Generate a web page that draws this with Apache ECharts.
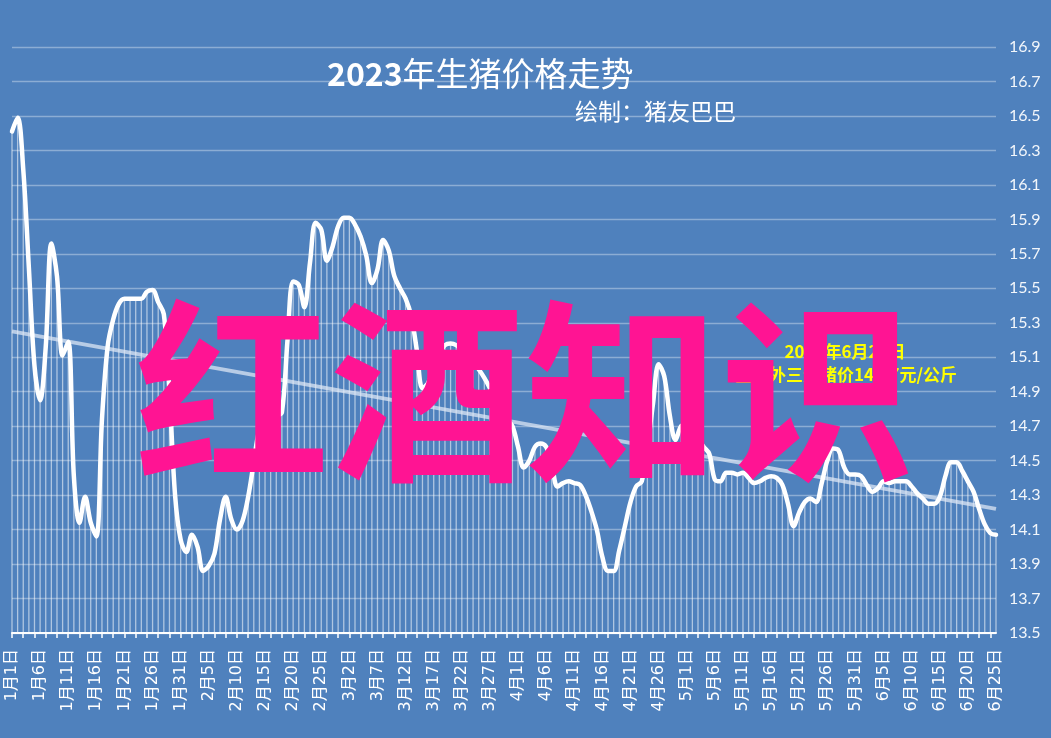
<!DOCTYPE html>
<html>
<head>
<meta charset="utf-8">
<script src="https://cdn.jsdelivr.net/npm/echarts@6/dist/echarts.min.js"></script>
<style>
html,body{margin:0;padding:0;background:#4f81bd;}
#chart{width:1051px;height:738px;}
</style>
</head>
<body>
<div id="chart"></div>
<script>
// month lengths used to build daily category labels 1月1日 ... 6月25日
var monthDays = [31, 28, 31, 30, 31, 25];
var categories = [];
for (var m = 0; m < monthDays.length; m++) {
  for (var d = 1; d <= monthDays[m]; d++) categories.push((m + 1) + '月' + d + '日');
}

// daily hog price (元/公斤)
var pricesJan = [16.41,16.49,16.19,15.62,15.05,14.85,15.16,15.76,15.57,15.11,15.19,14.41,14.14,14.29,14.14,14.06,14.74,15.16,15.32,15.41,15.44,15.44,15.44,15.44,15.48,15.49,15.42,15.35,14.90,14.30,14.04];
var pricesFeb = [13.97,14.07,14.00,13.86,13.89,13.96,14.16,14.29,14.16,14.10,14.15,14.29,14.49,14.68,14.72,14.74,14.76,14.78,15.20,15.54,15.52,15.39,15.65,15.88,15.84,15.66,15.74,15.86];
var pricesMar = [15.91,15.91,15.87,15.80,15.69,15.53,15.61,15.78,15.72,15.57,15.50,15.44,15.34,15.14,14.92,14.95,15.04,15.12,15.17,15.18,15.17,15.14,15.11,15.07,15.03,14.98,14.92,14.85,14.80,14.74,14.70];
var pricesApr = [14.58,14.46,14.50,14.58,14.60,14.58,14.48,14.35,14.37,14.38,14.37,14.36,14.30,14.21,14.10,13.94,13.86,13.86,13.98,14.12,14.26,14.35,14.38,14.58,14.83,15.06,14.99,14.76,14.62,14.70];
var pricesMay = [14.71,14.68,14.63,14.58,14.54,14.39,14.38,14.43,14.43,14.42,14.43,14.40,14.37,14.38,14.40,14.41,14.40,14.36,14.25,14.12,14.20,14.26,14.28,14.26,14.37,14.50,14.57,14.56,14.46,14.42,14.42];
var pricesJun = [14.41,14.36,14.32,14.34,14.38,14.37,14.38,14.38,14.38,14.35,14.31,14.28,14.25,14.25,14.29,14.41,14.49,14.49,14.44,14.38,14.32,14.22,14.13,14.08,14.07];
var prices = [].concat(pricesJan, pricesFeb, pricesMar, pricesApr, pricesMay, pricesJun);

// trend line end values (first day, last day)
var trendEnds = [15.25, 14.22];

var yMin = 13.5, yMax = 16.9, yStep = 0.2;

var chart = echarts.init(document.getElementById('chart'), null, {renderer: 'canvas'});
chart.setOption({
  animation: false,
  backgroundColor: '#4f81bd',
  grid: {left: 12, right: 55, top: 47, bottom: 105, containLabel: false},
  title: {
    left: 322, top: 52,
    text: '{b|2023}{n|年生猪价格走势}',
    textStyle: {
      rich: {
        b: {fontSize: 32, fontWeight: 'bold', color: '#ffffff', fontFamily: 'Noto Sans CJK SC'},
        n: {fontSize: 33, fontWeight: 'normal', color: '#ffffff', fontFamily: 'Noto Sans CJK SC'}
      }
    }
  },
  xAxis: {
    type: 'category',
    data: categories,
    boundaryGap: false,
    axisLine: {show: true, lineStyle: {color: '#ffffff', width: 2}},
    axisTick: {show: true, interval: 1, length: 5, lineStyle: {color: '#ffffff', width: 1.5}},
    axisLabel: {
      interval: 4, rotate: 90, margin: 16,
      color: '#ffffff', fontSize: 16, fontFamily: 'DejaVu Sans, Noto Sans CJK SC'
    },
    splitLine: {show: false}
  },
  yAxis: {
    type: 'value',
    position: 'right',
    min: yMin, max: yMax, interval: yStep,
    axisLine: {show: false},
    axisTick: {show: false},
    axisLabel: {
      margin: 13, color: '#f2f6fb', fontSize: 16, fontFamily: 'Lato',
      formatter: function (v) { return v.toFixed(1); }
    },
    splitLine: {show: true, lineStyle: {color: 'rgba(255,255,255,0.35)', width: 1.3}}
  },
  series: [
    {
      type: 'bar',
      data: prices,
      barWidth: 1.3,
      itemStyle: {color: 'rgba(255,255,255,0.55)'},
      silent: true,
      z: 1,
      markLine: {
        silent: true,
        symbol: ['none', 'none'],
        z: 2,
        label: {show: false},
        lineStyle: {color: 'rgba(225,233,245,0.72)', width: 4, type: 'solid'},
        data: [[
          {coord: [categories[0], trendEnds[0]]},
          {coord: [categories[categories.length - 1], trendEnds[1]]}
        ]]
      }
    },
    {
      type: 'line',
      data: prices,
      smooth: 0.35,
      symbol: 'none',
      z: 10,
      lineStyle: {color: '#ffffff', width: 4.5, cap: 'round', join: 'round'}
    }
  ],
  graphic: [
    {
      type: 'text', left: 575, top: 100, z: 50,
      style: {text: '绘制：猪友巴巴', fill: '#ffffff', fontSize: 23, fontFamily: 'Noto Sans CJK SC'}
    },
    {
      type: 'text', x: 845, y: 352, z: 50,
      style: {text: '2023年6月25日', fill: '#ffff00', fontSize: 17, fontWeight: 'bold',
        fontFamily: 'Noto Sans CJK SC', align: 'center', verticalAlign: 'middle'}
    },
    {
      type: 'text', x: 846, y: 375, z: 50,
      style: {text: '全国外三元猪价14.07元/公斤', fill: '#ffff00', fontSize: 17, fontWeight: 'bold',
        fontFamily: 'Noto Sans CJK SC', align: 'center', verticalAlign: 'middle'}
    },
    {
      type: 'text', x: 525, y: 392, z: 100,
      style: {text: '红酒知识', fill: '#ff1493', fontSize: 195, fontWeight: 'bold',
        fontFamily: 'Noto Sans CJK SC', align: 'center', verticalAlign: 'middle'}
    }
  ]
});
</script>
</body>
</html>
